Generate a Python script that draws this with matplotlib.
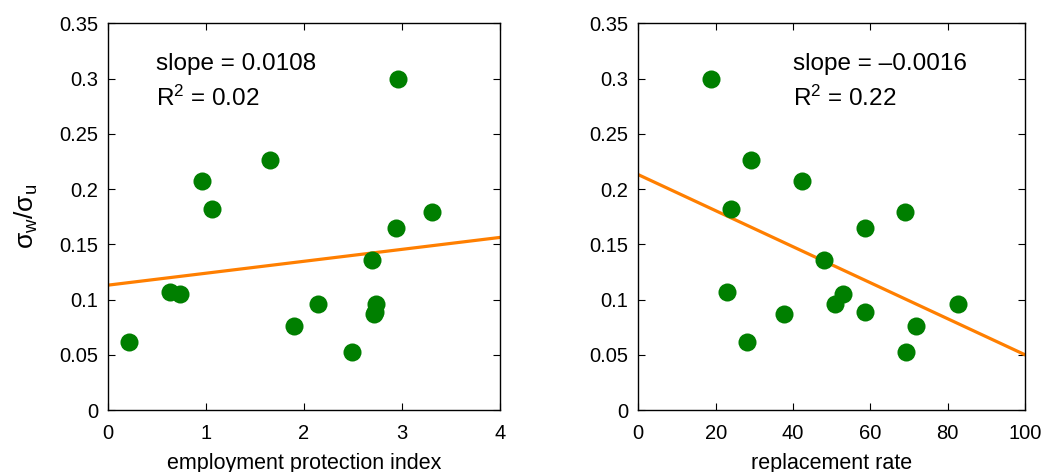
import matplotlib
matplotlib.use("Agg")
import matplotlib.pyplot as plt
import numpy as np

plt.rcParams['font.family'] = ['Liberation Sans', 'DejaVu Sans']
plt.rcParams['mathtext.fontset'] = 'custom'
plt.rcParams['mathtext.rm'] = 'Liberation Sans'
plt.rcParams['mathtext.it'] = 'Liberation Sans'
plt.rcParams['mathtext.bf'] = 'Liberation Sans:bold'

# data
ratio = [0.300, 0.226, 0.2076, 0.1822, 0.1789, 0.1644, 0.1358, 0.1065, 0.1047,
         0.0956, 0.0959, 0.0865, 0.0884, 0.0613, 0.0757, 0.0522]
epi = [2.963, 1.655, 0.962, 1.064, 3.307, 2.940, 2.692, 0.636, 0.737,
       2.144, 2.736, 2.715, 2.725, 0.210, 1.896, 2.488]
repl = [18.8, 29.05, 42.3, 24.0, 68.9, 58.7, 47.9, 22.9, 52.9,
        50.9, 82.6, 37.8, 58.7, 28.0, 71.9, 69.3]
fit_left = [0.113, 0.0108]      # intercept, slope
fit_right = [0.213, -0.00163]
left_text = ["slope = 0.0108", r"$\mathregular{R^2}$ = 0.02"]
right_text = ["slope = \u20130.0016", r"$\mathregular{R^2}$ = 0.22"]

W, H = 1050, 472
fig = plt.figure(figsize=(W / 100, H / 100), dpi=100)
axL = fig.add_axes([108 / W, 1 - 410 / H, (500 - 108) / W, (410 - 23.3) / H])
axR = fig.add_axes([638.3 / W, 1 - 410 / H, (1025 - 638.3) / W, (410 - 23.3) / H])

green = '#007f00'
orange = '#ff7f00'
fs = 14.5

for ax, x, fit, xlim, xticks, xlabel, txt, tx in [
        (axL, epi, fit_left, (0, 4), [0, 1, 2, 3, 4], 'employment protection index', left_text, 0.49),
        (axR, repl, fit_right, (0, 100), [0, 20, 40, 60, 80, 100], 'replacement rate', right_text, 39.9)]:
    ax.plot(x, ratio, 'o', color=green, markersize=13, markeredgewidth=0, zorder=3)
    xx = np.array(xlim, dtype=float)
    ax.plot(xx, fit[0] + fit[1] * xx, color=orange, linewidth=2.3, zorder=2)
    ax.set_xlim(*xlim)
    ax.set_ylim(0, 0.35)
    ax.set_xticks(xticks)
    ax.set_xticklabels([str(t) for t in xticks])
    yt = [0, 0.05, 0.1, 0.15, 0.2, 0.25, 0.3, 0.35]
    ax.set_yticks(yt)
    ax.set_yticklabels(['0', '0.05', '0.1', '0.15', '0.2', '0.25', '0.3', '0.35'])
    ax.tick_params(direction='in', top=True, right=True, length=5, width=0.8,
                   labelsize=fs)
    ax.tick_params(axis='x', pad=10)
    ax.tick_params(axis='y', pad=7)
    for s in ax.spines.values():
        s.set_linewidth(1.0)
    ax.set_xlabel(xlabel, fontsize=15.5, labelpad=7)
    ax.text(tx, 0.313, txt[0], fontsize=17.5, va='center', ha='left')
    ax.text(tx, 0.282, txt[1], fontsize=17.5, va='center', ha='left')

axL.set_ylabel(r'$\mathregular{\sigma_w/\sigma_u}$', fontsize=19, labelpad=14)

fig.savefig('out.png', dpi=100)
